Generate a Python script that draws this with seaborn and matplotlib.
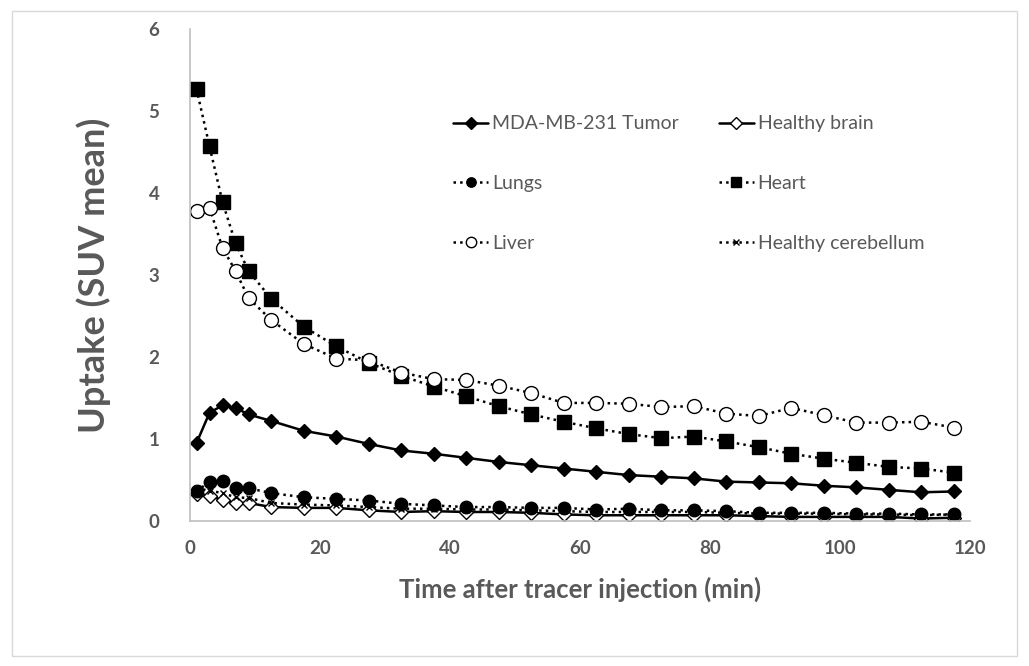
import numpy as np
import pandas as pd
import matplotlib
matplotlib.use("Agg")
import matplotlib.pyplot as plt
import seaborn as sns
from matplotlib.patches import Rectangle

# time points (min)
time_min = [1, 3, 5, 7, 9, 12.5, 17.5, 22.5, 27.5, 32.5, 37.5, 42.5, 47.5, 52.5,
            57.5, 62.5, 67.5, 72.5, 77.5, 82.5, 87.5, 92.5, 97.5, 102.5, 107.5,
            112.5, 117.5]

tumor = [0.95, 1.32, 1.41, 1.38, 1.30, 1.22, 1.10, 1.03, 0.94, 0.86, 0.82, 0.77, 0.72,
         0.68, 0.64, 0.60, 0.56, 0.54, 0.52, 0.48, 0.47, 0.46, 0.43, 0.41, 0.38, 0.35, 0.36]
brain = [0.33, 0.30, 0.26, 0.22, 0.22, 0.17, 0.16, 0.16, 0.13, 0.11, 0.12, 0.11, 0.11,
         0.10, 0.08, 0.07, 0.07, 0.07, 0.07, 0.07, 0.06, 0.05, 0.05, 0.05, 0.05, 0.03, 0.04]
lungs = [0.36, 0.48, 0.49, 0.40, 0.40, 0.34, 0.29, 0.27, 0.25, 0.21, 0.19, 0.17, 0.17,
         0.16, 0.16, 0.14, 0.15, 0.13, 0.13, 0.12, 0.10, 0.10, 0.10, 0.09, 0.09, 0.08, 0.08]
heart = [5.27, 4.57, 3.89, 3.39, 3.05, 2.71, 2.37, 2.13, 1.93, 1.77, 1.64, 1.52, 1.40,
         1.30, 1.21, 1.13, 1.06, 1.01, 1.03, 0.97, 0.90, 0.82, 0.76, 0.71, 0.66, 0.64, 0.59]
liver = [3.78, 3.82, 3.33, 3.05, 2.72, 2.45, 2.16, 1.98, 1.96, 1.81, 1.73, 1.72, 1.65,
         1.56, 1.44, 1.44, 1.43, 1.39, 1.40, 1.31, 1.28, 1.38, 1.29, 1.20, 1.20, 1.21, 1.14]
cerebellum = [0.40, 0.37, 0.34, 0.29, 0.28, 0.22, 0.20, 0.19, 0.17, 0.15, 0.15, 0.14, 0.14,
              0.13, 0.12, 0.11, 0.11, 0.11, 0.11, 0.10, 0.09, 0.09, 0.09, 0.08, 0.08, 0.07, 0.08]

series = {
    "MDA-MB-231 Tumor": tumor,
    "Healthy brain": brain,
    "Lungs": lungs,
    "Heart": heart,
    "Liver": liver,
    "Healthy cerebellum": cerebellum,
}

# (linestyle, marker, marker face, marker size)
styles = {
    "MDA-MB-231 Tumor": ("-", "D", "black", 7.5),
    "Healthy brain": ("-", "D", "white", 7.5),
    "Lungs": (":", "o", "black", 9),
    "Heart": (":", "s", "black", 10),
    "Liver": (":", "o", "white", 10),
    "Healthy cerebellum": (":", "x", "black", 5),
}

sns.set_style("white")
plt.rcParams['font.family'] = ['Lato', 'DejaVu Sans']
grey = "#595959"

fig = plt.figure(figsize=(10.29, 6.66), dpi=100)
ax = fig.add_axes([190 / 1029, 1 - 521 / 666, 780 / 1029, 492 / 666])

df = pd.DataFrame({"time": time_min})
for name, vals in series.items():
    ls, mk, fc, ms = styles[name]
    df[name] = vals
    sns.lineplot(data=df, x="time", y=name, ax=ax, color="black", linestyle=ls,
                 linewidth=1.8, marker=mk, markerfacecolor=fc, markeredgecolor="black",
                 markersize=ms, markeredgewidth=1.0, label=name)

ax.set_xlim(0, 120)
ax.set_ylim(0, 6)
ax.set_xticks(np.arange(0, 121, 20))
ax.set_yticks(np.arange(0, 7, 1))
ax.tick_params(axis="x", length=0, labelsize=13.5, labelcolor=grey, pad=14)
ax.tick_params(axis="y", length=0, labelsize=13.5, labelcolor=grey, pad=22)
for lab in ax.get_xticklabels() + ax.get_yticklabels():
    lab.set_fontweight("bold")
for s in ["top", "right"]:
    ax.spines[s].set_visible(False)
for s in ["left", "bottom"]:
    ax.spines[s].set_color("#bfbfbf")
    ax.spines[s].set_linewidth(1.2)

ax.set_xlabel("Time after tracer injection (min)", fontsize=18.5, fontweight="bold",
              color=grey, labelpad=14)
ax.set_ylabel("Uptake (SUV mean)", fontsize=26, fontweight="bold", color=grey,
              labelpad=27)

# legend fills column-first, so reorder to get row order of the reference
handles, labels = ax.get_legend_handles_labels()
order = [0, 2, 4, 1, 3, 5]
ax.legend([handles[i] for i in order], [labels[i] for i in order], ncol=2,
          loc="upper left", bbox_to_anchor=(0.315, 0.86), frameon=False,
          fontsize=14, labelcolor=grey, handlelength=1.8, handletextpad=0.2,
          columnspacing=2.05, labelspacing=2.2, markerscale=0.75)

fig.patches.append(Rectangle((12 / 1029, 10 / 666), 1005 / 1029, 645 / 666,
                             transform=fig.transFigure, fill=False,
                             edgecolor="#d9d9d9", linewidth=1.0))

fig.savefig("out.png", dpi=100)
